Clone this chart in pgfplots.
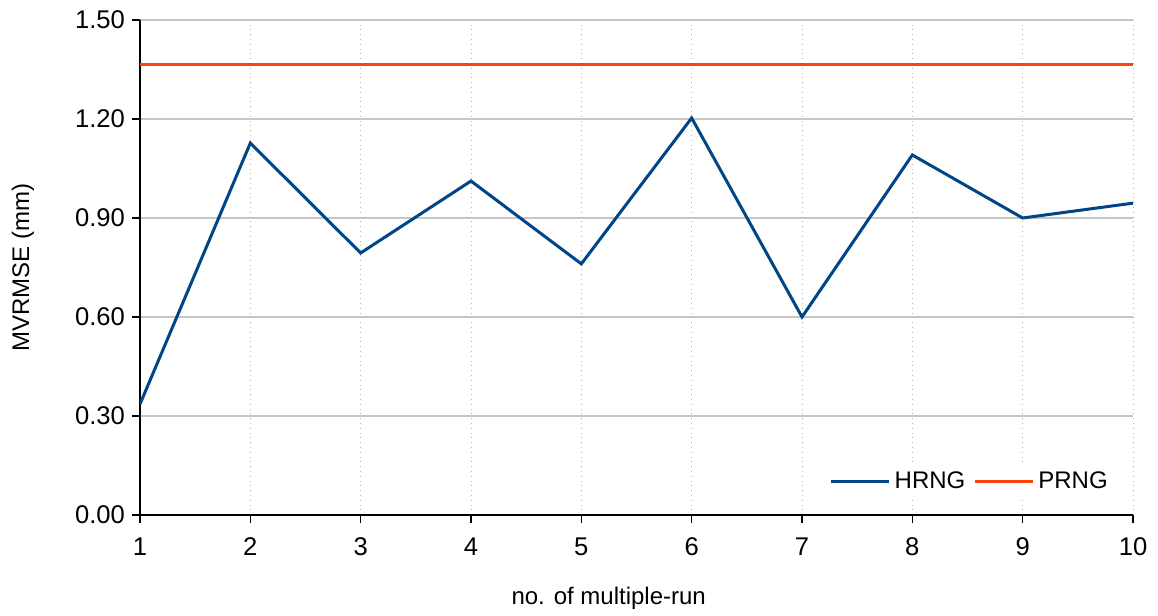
\documentclass[border=0pt]{standalone}
\usepackage{fontspec}
\setmainfont{Liberation Sans}
\usepackage{pgfplots}
\pgfplotsset{compat=1.18}
\definecolor{hblue}{HTML}{004586}
\definecolor{porange}{HTML}{FF420E}
\begin{document}
\begin{tikzpicture}
\begin{axis}[
  scale only axis,
  width=496.5pt, height=247.5pt,
  xmin=1, xmax=10, ymin=0, ymax=1.5,
  xtick={1,...,10},
  ytick={0,0.3,0.6,0.9,1.2,1.5},
  yticklabel style={/pgf/number format/.cd,fixed,fixed zerofill,precision=2},
  xticklabel style={yshift=-4pt},
  /pgf/number format/assume math mode=true,
  tick label style={font=\fontsize{12.8}{14}\selectfont},
  label style={font=\fontsize{12}{14}\selectfont},
  axis x line*=bottom, axis y line*=left,
  axis line style={black, line width=0.7pt, -},
  tick align=outside,
  major tick length=4pt,
  tick style={black, line width=0.7pt},
  xmajorgrids, ymajorgrids,
  x grid style={gray!60, dotted, line width=0.5pt},
  y grid style={gray!45, line width=0.6pt},
  xlabel={no. of multiple-run},
  ylabel={MVRMSE (mm)},
  xlabel style={at={(axis description cs:0.472,-0.1677)}, anchor=center},
  ylabel style={at={(axis description cs:-0.1178,0.5)}, anchor=center},
  legend style={at={(axis description cs:0.985,0.067)}, anchor=east,
    draw=none, fill=white, legend columns=2,
    font=\fontsize{12}{14}\selectfont,
    /tikz/every even column/.append style={column sep=2pt}},
  legend image code/.code={\draw[#1] (0pt,0pt) -- (29pt,0pt);},
]
\addplot[hblue, line width=1.5pt] coordinates {
(1,0.336) (2,1.127) (3,0.794) (4,1.012) (5,0.761) (6,1.203) (7,0.600) (8,1.091) (9,0.900) (10,0.945)};
\addlegendentry{HRNG}
\addplot[porange, line width=1.5pt] coordinates {
(1,1.364) (2,1.364) (3,1.364) (4,1.364) (5,1.364) (6,1.364) (7,1.364) (8,1.364) (9,1.364) (10,1.364)};
\addlegendentry{PRNG}
\end{axis}
\path (current axis.south west) ++(-70pt,-49pt) coordinate (bbA);
\path (current axis.north east) ++(12.5pt,10pt) coordinate (bbB);
\path (bbA) rectangle (bbB);
\end{tikzpicture}
\end{document}
